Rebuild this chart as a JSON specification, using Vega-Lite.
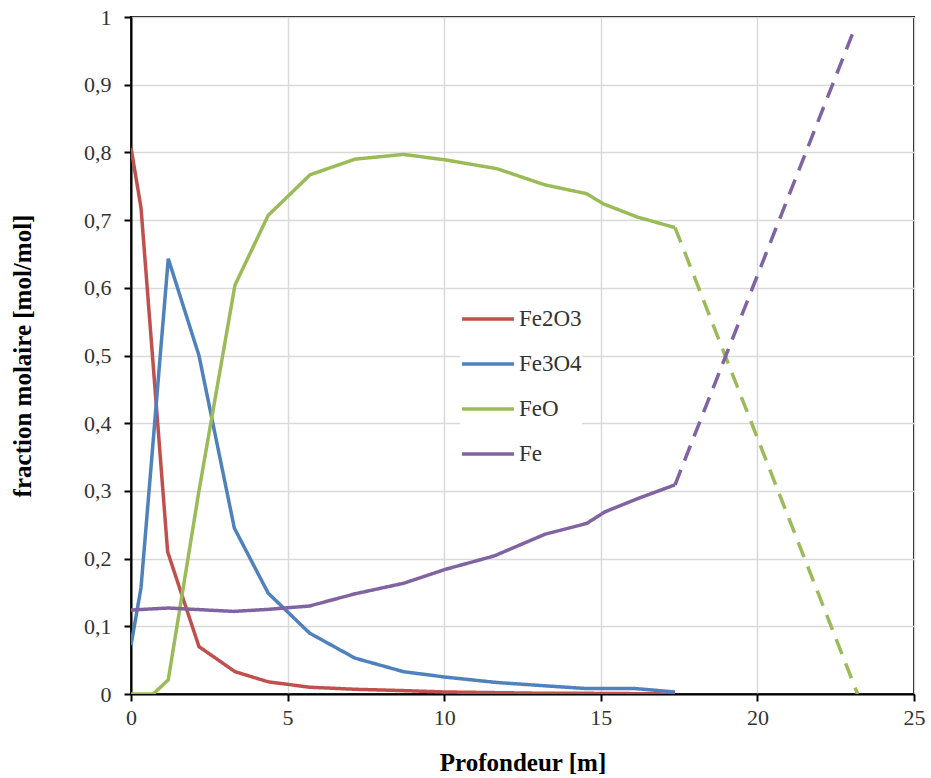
{
  "$schema": "https://vega.github.io/schema/vega-lite/v6.json",
  "width": 783,
  "height": 677,
  "autosize": {"type": "none"},
  "padding": {"left": 131, "top": 17, "right": 17, "bottom": 84},
  "background": "white",
  "config": {
    "font": "Liberation Serif",
    "view": {"stroke": "black", "strokeWidth": 2}
  },
  "data": {
    "values": [
      {"species": "Fe2O3", "seg": "solid", "x": 0, "y": 0.807},
      {"species": "Fe2O3", "seg": "solid", "x": 0.32, "y": 0.718},
      {"species": "Fe2O3", "seg": "solid", "x": 1.17, "y": 0.21},
      {"species": "Fe2O3", "seg": "solid", "x": 2.17, "y": 0.07},
      {"species": "Fe2O3", "seg": "solid", "x": 3.32, "y": 0.033},
      {"species": "Fe2O3", "seg": "solid", "x": 4.38, "y": 0.018},
      {"species": "Fe2O3", "seg": "solid", "x": 5.7, "y": 0.01},
      {"species": "Fe2O3", "seg": "solid", "x": 7.15, "y": 0.007},
      {"species": "Fe2O3", "seg": "solid", "x": 8.7, "y": 0.005},
      {"species": "Fe2O3", "seg": "solid", "x": 10.03, "y": 0.003},
      {"species": "Fe2O3", "seg": "solid", "x": 11.68, "y": 0.002},
      {"species": "Fe2O3", "seg": "solid", "x": 13.25, "y": 0.001},
      {"species": "Fe2O3", "seg": "solid", "x": 14.55, "y": 0.001},
      {"species": "Fe2O3", "seg": "solid", "x": 16.1, "y": 0.0005},
      {"species": "Fe2O3", "seg": "solid", "x": 17.37, "y": 0.0},

      {"species": "Fe3O4", "seg": "solid", "x": 0, "y": 0.072},
      {"species": "Fe3O4", "seg": "solid", "x": 0.32, "y": 0.157},
      {"species": "Fe3O4", "seg": "solid", "x": 1.19, "y": 0.643},
      {"species": "Fe3O4", "seg": "solid", "x": 2.17, "y": 0.5},
      {"species": "Fe3O4", "seg": "solid", "x": 3.3, "y": 0.245},
      {"species": "Fe3O4", "seg": "solid", "x": 4.38, "y": 0.149},
      {"species": "Fe3O4", "seg": "solid", "x": 5.7, "y": 0.09},
      {"species": "Fe3O4", "seg": "solid", "x": 7.15, "y": 0.053},
      {"species": "Fe3O4", "seg": "solid", "x": 8.7, "y": 0.033},
      {"species": "Fe3O4", "seg": "solid", "x": 10.03, "y": 0.025},
      {"species": "Fe3O4", "seg": "solid", "x": 11.68, "y": 0.017},
      {"species": "Fe3O4", "seg": "solid", "x": 13.25, "y": 0.012},
      {"species": "Fe3O4", "seg": "solid", "x": 14.55, "y": 0.008},
      {"species": "Fe3O4", "seg": "solid", "x": 16.1, "y": 0.008},
      {"species": "Fe3O4", "seg": "solid", "x": 17.37, "y": 0.003},

      {"species": "FeO", "seg": "solid", "x": 0, "y": 0.0},
      {"species": "FeO", "seg": "solid", "x": 0.71, "y": 0.0},
      {"species": "FeO", "seg": "solid", "x": 1.19, "y": 0.021},
      {"species": "FeO", "seg": "solid", "x": 2.17, "y": 0.3},
      {"species": "FeO", "seg": "solid", "x": 3.32, "y": 0.604},
      {"species": "FeO", "seg": "solid", "x": 4.38, "y": 0.707},
      {"species": "FeO", "seg": "solid", "x": 5.72, "y": 0.767},
      {"species": "FeO", "seg": "solid", "x": 7.15, "y": 0.79},
      {"species": "FeO", "seg": "solid", "x": 8.7, "y": 0.797},
      {"species": "FeO", "seg": "solid", "x": 10.03, "y": 0.789},
      {"species": "FeO", "seg": "solid", "x": 11.68, "y": 0.776},
      {"species": "FeO", "seg": "solid", "x": 13.22, "y": 0.752},
      {"species": "FeO", "seg": "solid", "x": 14.55, "y": 0.739},
      {"species": "FeO", "seg": "solid", "x": 15.08, "y": 0.724},
      {"species": "FeO", "seg": "solid", "x": 16.2, "y": 0.704},
      {"species": "FeO", "seg": "solid", "x": 17.37, "y": 0.689},
      {"species": "FeO", "seg": "dashed", "x": 17.37, "y": 0.689},
      {"species": "FeO", "seg": "dashed", "x": 23.2, "y": 0.0},

      {"species": "Fe", "seg": "solid", "x": 0, "y": 0.124},
      {"species": "Fe", "seg": "solid", "x": 1.19, "y": 0.127},
      {"species": "Fe", "seg": "solid", "x": 3.27, "y": 0.122},
      {"species": "Fe", "seg": "solid", "x": 4.38, "y": 0.125},
      {"species": "Fe", "seg": "solid", "x": 5.7, "y": 0.13},
      {"species": "Fe", "seg": "solid", "x": 7.15, "y": 0.148},
      {"species": "Fe", "seg": "solid", "x": 8.7, "y": 0.1635},
      {"species": "Fe", "seg": "solid", "x": 10.03, "y": 0.184},
      {"species": "Fe", "seg": "solid", "x": 11.6, "y": 0.204},
      {"species": "Fe", "seg": "solid", "x": 13.22, "y": 0.236},
      {"species": "Fe", "seg": "solid", "x": 14.55, "y": 0.252},
      {"species": "Fe", "seg": "solid", "x": 15.13, "y": 0.269},
      {"species": "Fe", "seg": "solid", "x": 16.2, "y": 0.289},
      {"species": "Fe", "seg": "solid", "x": 17.37, "y": 0.309},
      {"species": "Fe", "seg": "dashed", "x": 17.37, "y": 0.309},
      {"species": "Fe", "seg": "dashed", "x": 23.12, "y": 0.985}
    ]
  },
  "mark": {"type": "line", "strokeWidth": 3.5, "clip": true},
  "encoding": {
    "x": {
      "field": "x", "type": "quantitative",
      "scale": {"domain": [0, 25], "nice": false},
      "axis": {
        "title": "Profondeur [m]",
        "values": [0, 5, 10, 15, 20, 25],
        "grid": true, "gridColor": "#d9d9d9", "gridWidth": 1.5,
        "domainColor": "black", "domainWidth": 2,
        "tickColor": "black", "tickWidth": 2, "tickSize": 7,
        "labelFontSize": 22, "labelColor": "#333333", "labelPadding": 6,
        "labelFlush": false,
        "titleFontSize": 25, "titleFontWeight": "bold", "titleColor": "black",
        "titleY": 68, "titleBaseline": "middle"
      }
    },
    "y": {
      "field": "y", "type": "quantitative",
      "scale": {"domain": [0, 1], "nice": false},
      "axis": {
        "title": "fraction molaire [mol/mol]",
        "values": [0, 0.1, 0.2, 0.3, 0.4, 0.5, 0.6, 0.7, 0.8, 0.9, 1],
        "labelExpr": "replace(format(datum.value, '.1~f'), '.', ',')",
        "grid": true, "gridColor": "#d9d9d9", "gridWidth": 1.5,
        "domainColor": "black", "domainWidth": 2,
        "tickColor": "black", "tickWidth": 2, "tickSize": 7,
        "labelFontSize": 22, "labelColor": "#333333", "labelPadding": 13,
        "labelFlush": false,
        "titleFontSize": 25, "titleFontWeight": "bold", "titleColor": "black",
        "titleX": -109, "titleY": 338.5, "titleAngle": -90,
        "titleBaseline": "middle", "titleAlign": "center"
      }
    },
    "color": {
      "field": "species", "type": "nominal",
      "scale": {
        "domain": ["Fe2O3", "Fe3O4", "FeO", "Fe"],
        "range": ["#c0504d", "#4f81bd", "#9bbb59", "#8064a2"]
      },
      "legend": {
        "title": null,
        "orient": "none",
        "legendX": 329,
        "legendY": 274,
        "fillColor": "white",
        "padding": 0,
        "symbolType": "stroke",
        "symbolSize": 2700,
        "symbolStrokeWidth": 3.5,
        "labelFontSize": 23,
        "labelColor": "#333333",
        "labelOffset": 3,
        "rowPadding": 5
      }
    },
    "strokeDash": {
      "field": "seg", "type": "nominal",
      "scale": {"domain": ["solid", "dashed"], "range": [[1, 0], [16, 10]]},
      "legend": null
    }
  }
}
